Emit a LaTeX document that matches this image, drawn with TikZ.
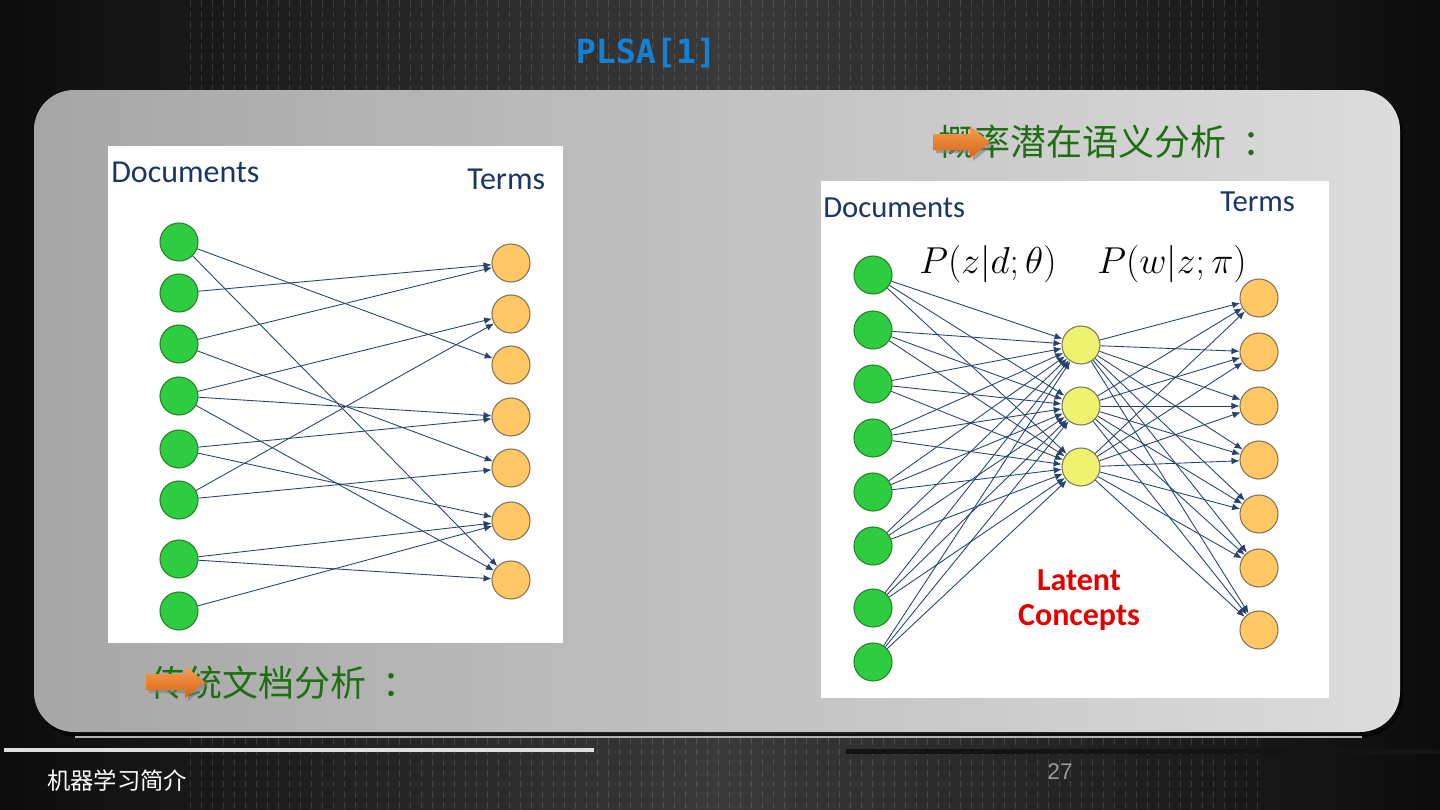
\documentclass[tikz,border=0pt]{standalone}
\usepackage{fontspec}
\newfontfamily\cjkfont{Noto Sans CJK SC}
\newfontfamily\calfont{Carlito}
\newfontfamily\ttlfont{DejaVu Sans Mono}
\newfontfamily\numfont{Liberation Sans}
\usetikzlibrary{arrows.meta}
\definecolor{bgdark}{RGB}{12,12,12}
\definecolor{bgmid}{RGB}{58,58,58}
\definecolor{panL}{RGB}{166,166,166}
\definecolor{panR}{RGB}{220,220,220}
\definecolor{docf}{RGB}{46,204,64}
\definecolor{docb}{RGB}{40,130,40}
\definecolor{termf}{RGB}{255,200,100}
\definecolor{termb}{RGB}{130,115,90}
\definecolor{latf}{RGB}{238,242,110}
\definecolor{latb}{RGB}{120,120,100}
\definecolor{edgec}{RGB}{38,66,112}
\definecolor{navy}{RGB}{25,55,100}
\definecolor{ttlblue}{RGB}{24,128,210}
\definecolor{cjkgreen}{RGB}{30,110,18}
\definecolor{arrowL}{RGB}{246,160,80}
\definecolor{arrowD}{RGB}{214,100,20}
\begin{document}
\begin{tikzpicture}[x=0.75pt,y=-0.75pt,
  doc/.style={circle,draw=docb,fill=docf,minimum size=28.5pt,inner sep=0pt,line width=0.8pt},
  term/.style={circle,draw=termb,fill=termf,minimum size=28.5pt,inner sep=0pt,line width=0.8pt},
  lat/.style={circle,draw=latb,fill=latf,minimum size=28.5pt,inner sep=0pt,line width=0.8pt},
  edge/.style={draw=edgec,line width=0.65pt,-{Latex[length=6pt,width=5pt]}},
  lbl/.style={font=\calfont\fontsize{24pt}{26pt}\selectfont,text=navy,anchor=base west,inner sep=0pt},
  cjk/.style={font=\cjkfont\fontsize{27pt}{30pt}\selectfont,text=cjkgreen,anchor=west,inner sep=0pt},
  mathlbl/.style={font=\fontsize{24.88pt}{30pt}\selectfont,inner sep=0pt,anchor=base},
]
\useasboundingbox (0,0) rectangle (1440,810);
% background
\shade[left color=bgdark,right color=bgdark,middle color=bgmid] (0,0) rectangle (1440,810);
\foreach \x in {190,201,...,1260}{
  \draw[white,opacity=0.13,line width=0.6pt,dash pattern=on 5pt off 3pt] (\x,0) -- (\x,92);
  \draw[white,opacity=0.13,line width=0.6pt,dash pattern=on 5pt off 3pt] (\x,738) -- (\x,810);
}
% title
\node[font=\ttlfont\bfseries\fontsize{25pt}{28pt}\selectfont,text=ttlblue,inner sep=0pt] (title) at (646,53) {PLSA[1]};
% panel
\fill[black,opacity=0.6,rounded corners=30pt] (37,94) rectangle (1403,737);
\shade[left color=panL,right color=panR,rounded corners=30pt] (34,90) rectangle (1400,732);
\draw[gray!60,line width=0.8pt] (75,737) -- (1362,737);
% white images
\fill[white] (108,146) rectangle (563,643);
\fill[white] (821,181) rectangle (1329,698);
% left diagram
\node[lbl] (ldoc) at (111,182) {Documents};
\node[lbl] (lterm) at (467,189) {Terms};
\foreach \n/\y in {1/242,2/293,3/344,4/396,5/449,6/500,7/559,8/611}
  \node[doc] (a\n) at (179,\y) {};
\foreach \n/\y in {1/263,2/314,3/365,4/417,5/468,6/521,7/580}
  \node[term] (b\n) at (511,\y) {};
\foreach \s/\t in {1/3,1/7,2/1,3/1,3/5,4/2,4/4,4/7,5/4,5/6,6/2,6/5,7/6,7/7,8/6}
  \draw[edge] (a\s) -- (b\t);
% right diagram
\node[lbl,font=\calfont\fontsize{23pt}{26pt}\selectfont] (rdoc) at (823,217) {Documents};
\node[lbl,font=\calfont\fontsize{23pt}{26pt}\selectfont] (rterm) at (1220,211) {Terms};
\node[mathlbl] (pz) at (988,273) {\scalebox{1.13}{$P(z|d;\theta)$}};
\node[mathlbl] (pw) at (1172,273) {\scalebox{1.13}{$P(w|z;\pi)$}};
\foreach \n/\y in {1/275,2/330,3/384,4/438,5/492,6/546,7/608,8/662}
  \node[doc] (c\n) at (873,\y) {};
\foreach \n/\y in {1/345,2/406,3/467}
  \node[lat] (z\n) at (1081,\y) {};
\foreach \n/\y in {1/298,2/352,3/406,4/460,5/514,6/568,7/630}
  \node[term] (w\n) at (1259,\y) {};
\foreach \s in {1,...,8}
  \foreach \t in {1,2,3}
    \draw[edge] (c\s) -- (z\t);
\foreach \s in {1,2,3}
  \foreach \t in {1,...,7}
    \draw[edge] (z\s) -- (w\t);
\node[font=\calfont\bfseries\fontsize{24pt}{26pt}\selectfont,text=red!90!black,align=center,inner sep=0pt,anchor=base] (lc) at (1079,625) {Latent\\Concepts};
% green headings
\node[cjk] (h1) at (938,142) {概率潜在语义分析\hspace{0.45em}：};
\node[cjk] (h2) at (150,683) {传统文档分析\hspace{0.45em}：};
% orange arrows
\fill[black!50,opacity=0.6] (936,137) -- (973,137) -- (973,129) -- (993,145) -- (973,161) -- (973,153) -- (936,153) -- cycle;
\shade[top color=arrowL,bottom color=arrowD] (933,134) -- (970,134) -- (970,126) -- (990,142) -- (970,158) -- (970,150) -- (933,150) -- cycle;
\fill[black!50,opacity=0.6] (149,677) -- (188,677) -- (188,669) -- (208,685) -- (188,701) -- (188,693) -- (149,693) -- cycle;
\shade[top color=arrowL,bottom color=arrowD] (146,674) -- (185,674) -- (185,666) -- (205,682) -- (185,698) -- (185,690) -- (146,690) -- cycle;
% bottom
\fill[white!87!black] (4,748) rectangle (594,752);
\fill[black!92] (846,749) rectangle (1440,754);
\node[font=\cjkfont\fontsize{17.5pt}{20pt}\selectfont,text=white,anchor=west,inner sep=0pt] (foot) at (47,781) {机器学习简介};
\node[font=\numfont\fontsize{17pt}{20pt}\selectfont,text=gray!80,inner sep=0pt] (pg) at (1060,772) {27};
\end{tikzpicture}
\end{document}
